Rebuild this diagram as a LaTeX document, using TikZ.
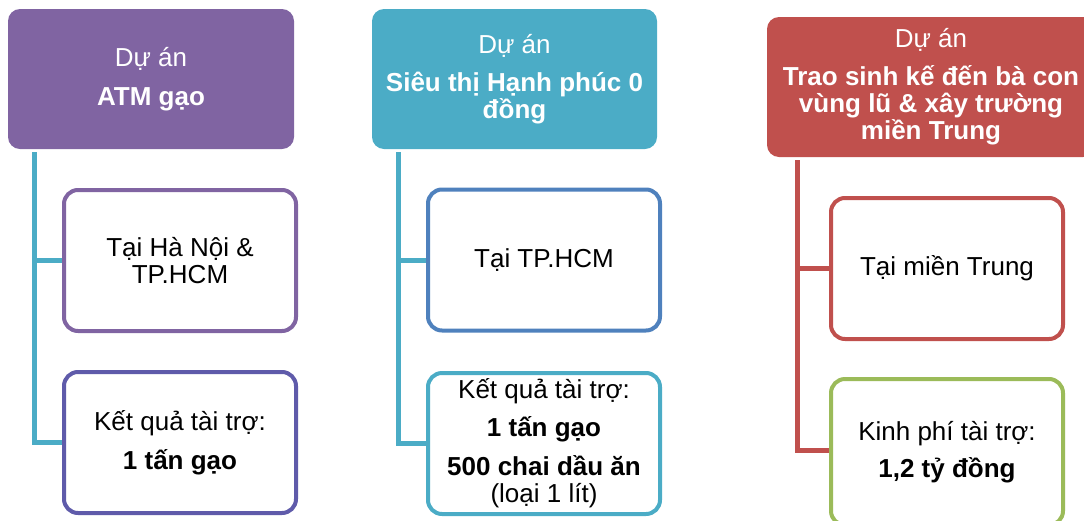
\documentclass[tikz,border=0pt]{standalone}
\usepackage{fontspec}
\setmainfont{Liberation Sans}
\definecolor{cPurple}{HTML}{8064A2}
\definecolor{cTeal}{HTML}{4BACC6}
\definecolor{cBlue}{HTML}{4F81BD}
\definecolor{cRed}{HTML}{C0504D}
\definecolor{cGreen}{HTML}{9BBB59}
\definecolor{cIndigo}{HTML}{5F5BAA}
\tikzset{
  header/.style={rectangle, rounded corners=12pt, inner sep=0pt, minimum height=140pt,
    text=white, align=center, font=\fontsize{26}{27}\selectfont},
  itembox/.style={rectangle, rounded corners=14pt, draw=#1, line width=4pt, fill=white,
    inner sep=0pt, minimum width=232pt, minimum height=141pt, align=center,
    font=\fontsize{26}{27}\selectfont},
  conn/.style={draw=#1, line width=5pt},
}
\begin{document}
\begin{tikzpicture}[x=1pt,y=-1pt]
\useasboundingbox (0,0) rectangle (1084,520);
\clip (0,0) rectangle (1084,520);

% Project 1: ATM gao
\node[header, fill=cPurple, minimum width=286pt] (h1) at (151,79)
  {Dự án\\[12pt]\textbf{ATM gạo}};
\node[itembox=cPurple] (a1) at (180,260.5) {Tại Hà Nội \&\\TP.HCM};
\node[itembox=cIndigo] (a2) at (180,442.5)
  {Kết quả tài trợ:\\[12pt]\textbf{1 tấn gạo}};
\draw[conn=cTeal] ([xshift=26.5pt,yshift=-3pt]h1.south west) |- (a1.west);
\draw[conn=cTeal] ([xshift=26.5pt,yshift=-3pt]h1.south west) |- (a2.west);

% Project 2: Sieu thi Hanh phuc 0 dong
\node[header, fill=cTeal, minimum width=285pt] (h2) at (514.5,79)
  {Dự án\\[11pt]\textbf{Siêu thị Hạnh phúc 0}\\\textbf{đồng}};
\node[itembox=cBlue] (b1) at (544,260) {Tại TP.HCM};
\node[itembox=cTeal] (b2) at (544,443.5)
  {Kết quả tài trợ:\\[11pt]\textbf{1 tấn gạo}\\[12pt]\textbf{500 chai dầu ăn}\\(loại 1 lít)};
\draw[conn=cTeal] ([xshift=26.5pt,yshift=-3pt]h2.south west) |- (b1.west);
\draw[conn=cTeal] ([xshift=26.5pt,yshift=-3pt]h2.south west) |- (b2.west);

% Project 3: Trao sinh ke den ba con vung lu & xay truong mien Trung
\node[header, fill=cRed, minimum width=328pt, minimum height=140pt] (h3) at (931,87)
  {Dự án\\[11pt]\textbf{Trao sinh kế đến bà con}\\\textbf{vùng lũ \& xây trường}\\\textbf{miền Trung}};
\node[itembox=cRed] (c1) at (947,268.5) {Tại miền Trung};
\node[itembox=cGreen, minimum height=146pt] (c2) at (947,452)
  {Kinh phí tài trợ:\\[10pt]\textbf{1,2 tỷ đồng}};
\draw[conn=cRed] ([xshift=31pt,yshift=-3pt]h3.south west) |- (c1.west);
\draw[conn=cRed] ([xshift=31pt,yshift=-3pt]h3.south west) |- ([yshift=1.5pt]c2.west);
\end{tikzpicture}
\end{document}
